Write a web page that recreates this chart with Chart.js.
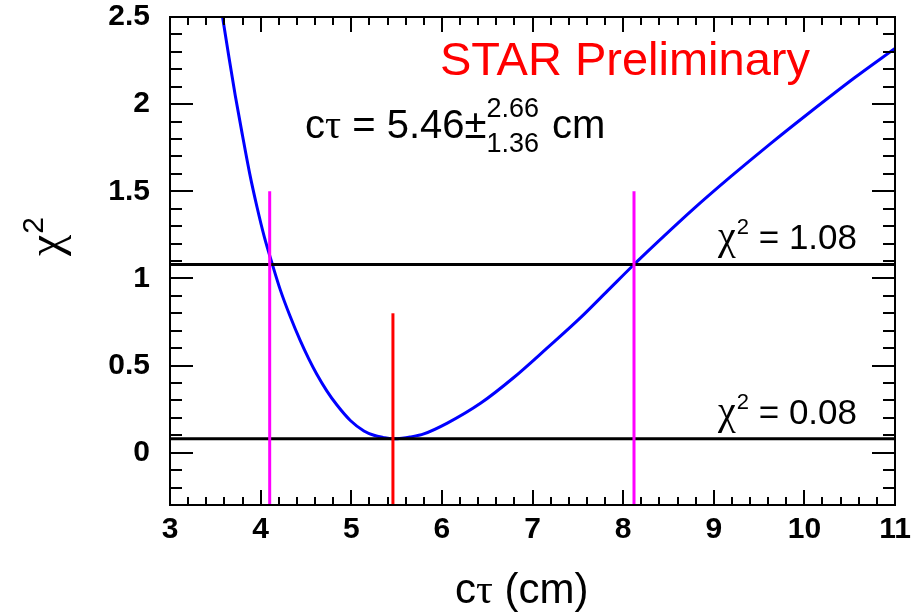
<!DOCTYPE html>
<html>
<head>
<meta charset="utf-8">
<script src="https://cdn.jsdelivr.net/npm/chart.js@4.4.1/dist/chart.umd.min.js"></script>
<style>
  html, body { margin: 0; padding: 0; background: #fff; }
  #wrap { width: 919px; height: 613px; }
</style>
</head>
<body>
<div id="wrap"><canvas id="chi2Chart" width="919" height="613"></canvas></div>
<script>
// chi2 scan of the lifetime fit, c*tau in cm
const ctValues = [3.55, 3.58, 3.65, 3.72, 3.80, 3.88, 3.96, 4.04, 4.13, 4.22, 4.32, 4.44, 4.53, 4.62, 4.73, 4.84, 4.99, 5.14, 5.25, 5.35, 5.46,
  5.56, 5.65, 5.80, 6.06, 6.43, 6.79, 7.16, 7.53, 7.83, 8.12, 8.19, 8.78, 9.19, 9.63, 10.04, 10.55, 11.0];
const chi2Values = [2.60, 2.50, 2.27, 2.05, 1.82, 1.60, 1.41, 1.24, 1.08, 0.93, 0.79, 0.64, 0.54, 0.45, 0.355, 0.275, 0.185, 0.125, 0.10, 0.088, 0.08,
  0.083, 0.09, 0.108, 0.17, 0.285, 0.43, 0.60, 0.775, 0.93, 1.08, 1.115, 1.40, 1.585, 1.775, 1.945, 2.15, 2.32];

// fit result: best value and asymmetric errors
const ctBest = 5.46;
const ctErrUp = 2.66;
const ctErrDown = 1.36;
const chi2Min = 0.08;
const chi2Levels = [chi2Min, chi2Min + 1];
const boundMarkTop = 1.5;
const bestMarkTop = 0.8;

// axis ranges and labelled ticks
const xRange = [3, 11];
const yRange = [-0.3, 2.5];
const xTicks = [3, 4, 5, 6, 7, 8, 9, 10, 11];
const yTicks = [0, 0.5, 1, 1.5, 2, 2.5];

const SANS = '"Liberation Sans", Arial, sans-serif';
const SERIF = '"Liberation Serif", "Times New Roman", serif';

function segment(x0, y0, x1, y1) {
  return [{ x: x0, y: y0 }, { x: x1, y: y1 }];
}

const ctBounds = [ctBest - ctErrDown, ctBest + ctErrUp];

const datasets = [];
// best value marker (red)
datasets.push({
  data: segment(ctBest, yRange[0], ctBest, bestMarkTop),
  borderColor: '#ff0000', borderWidth: 3, pointRadius: 0
});
// error bounds (magenta)
ctBounds.forEach(function (b) {
  datasets.push({
    data: segment(b, yRange[0], b, boundMarkTop),
    borderColor: '#ff00ff', borderWidth: 3, pointRadius: 0
  });
});
// chi2 levels (black)
chi2Levels.forEach(function (lvl) {
  datasets.push({
    data: segment(xRange[0], lvl, xRange[1], lvl),
    borderColor: '#000000', borderWidth: 3, pointRadius: 0
  });
});
// the scan itself
datasets.push({
  data: ctValues.map(function (x, i) { return { x: x, y: chi2Values[i] }; }),
  borderColor: '#0000ff', borderWidth: 3, pointRadius: 0,
  cubicInterpolationMode: 'monotone'
});

// frame with inward ticks on all four sides, ROOT style
const frameTicks = {
  id: 'frameTicks',
  afterDatasetsDraw(chart) {
    const ctx = chart.ctx;
    const ca = chart.chartArea;
    const xs = chart.scales.x, ys = chart.scales.y;
    ctx.save();
    ctx.strokeStyle = '#000';
    ctx.lineWidth = 2;
    ctx.strokeRect(ca.left, ca.top, ca.right - ca.left, ca.bottom - ca.top);
    ctx.beginPath();
    for (let i = 0; i <= 40; i++) {
      const v = xRange[0] + i * 0.2;
      const px = Math.round(xs.getPixelForValue(v));
      const len = (i % 5 === 0) ? 15 : 8;
      ctx.moveTo(px, ca.bottom); ctx.lineTo(px, ca.bottom - len);
      ctx.moveTo(px, ca.top); ctx.lineTo(px, ca.top + len);
    }
    for (let i = 0; i <= 28; i++) {
      const v = yRange[0] + i * 0.1;
      const py = Math.round(ys.getPixelForValue(v));
      const major = Math.abs(Math.round(v * 2) - v * 2) < 1e-6;
      const len = major ? 23 : 12;
      ctx.moveTo(ca.left, py); ctx.lineTo(ca.left + len, py);
      ctx.moveTo(ca.right, py); ctx.lineTo(ca.right - len, py);
    }
    ctx.stroke();
    ctx.restore();
  }
};

// text with a raised exponent, drawn left to right
function drawPowered(ctx, x, y, base, baseFont, sup, supFont, rise) {
  ctx.font = baseFont;
  ctx.fillText(base, x, y);
  x += ctx.measureText(base).width + 1;
  ctx.font = supFont;
  ctx.fillText(sup, x, y - rise);
  return x + ctx.measureText(sup).width;
}

const labels = {
  id: 'labels',
  afterDraw(chart) {
    const ctx = chart.ctx;
    const ca = chart.chartArea;
    const ys = chart.scales.y;
    ctx.save();
    ctx.textBaseline = 'alphabetic';
    ctx.textAlign = 'left';

    // preliminary tag
    ctx.fillStyle = '#ff0000';
    ctx.font = '47px ' + SANS;
    ctx.fillText('STAR Preliminary', 440, 75);

    // fit result
    ctx.fillStyle = '#000';
    let x = 305;
    const base = 138;
    ctx.font = '40px ' + SANS;
    ctx.fillText('c', x, base);
    x += ctx.measureText('c').width;
    ctx.font = '40px ' + SERIF;
    ctx.fillText('\u03c4', x, base);
    x += ctx.measureText('\u03c4').width;
    ctx.font = '40px ' + SANS;
    const mid = ' = ' + ctBest.toFixed(2) + '\u00b1';
    ctx.fillText(mid, x, base);
    x += ctx.measureText(mid).width;
    ctx.font = '27px ' + SANS;
    ctx.fillText(ctErrUp.toFixed(2), x, base - 21);
    ctx.fillText(ctErrDown.toFixed(2), x, base + 14);
    x += Math.max(ctx.measureText(ctErrUp.toFixed(2)).width, ctx.measureText(ctErrDown.toFixed(2)).width) + 13;
    ctx.font = '40px ' + SANS;
    ctx.fillText('cm', x, base);

    // chi2 level labels, right aligned near the frame
    chi2Levels.forEach(function (lvl) {
      const py = ys.getPixelForValue(lvl) - 15;
      const tail = ' = ' + lvl.toFixed(2);
      ctx.font = '35px ' + SANS;
      const wTail = ctx.measureText(tail).width;
      ctx.font = '22px ' + SANS;
      const wSup = ctx.measureText('2').width;
      ctx.font = '40px ' + SERIF;
      const wChi = ctx.measureText('\u03c7').width;
      let sx = ca.right - 38 - wTail - wSup - wChi - 1;
      sx = drawPowered(ctx, sx, py, '\u03c7', '40px ' + SERIF, '2', '22px ' + SANS, 15);
      ctx.font = '35px ' + SANS;
      ctx.fillText(tail, sx, py);
    });

    // x axis title
    ctx.font = '42px ' + SANS;
    let tx = 455;
    const ty = 603;
    ctx.fillText('c', tx, ty);
    tx += ctx.measureText('c').width;
    ctx.font = '42px ' + SERIF;
    ctx.fillText('\u03c4', tx, ty);
    tx += ctx.measureText('\u03c4').width;
    ctx.font = '42px ' + SANS;
    ctx.fillText(' (cm)', tx, ty);

    // y axis title, rotated
    ctx.translate(61, 256);
    ctx.rotate(-Math.PI / 2);
    drawPowered(ctx, 0, 0, '\u03c7', '48px ' + SERIF, '2', '30px ' + SANS, 18);
    ctx.restore();
  }
};

const tickFont = { family: SANS, weight: 'bold', size: 30 };

new Chart(document.getElementById('chi2Chart'), {
  type: 'line',
  data: { datasets: datasets },
  options: {
    responsive: false,
    animation: false,
    devicePixelRatio: 1,
    layout: { padding: { top: 17, right: 24, left: 0, bottom: 0 } },
    plugins: { legend: { display: false }, tooltip: { enabled: false } },
    scales: {
      x: {
        type: 'linear', min: xRange[0], max: xRange[1],
        grid: { display: false, drawTicks: false }, border: { display: false },
        ticks: { color: '#000', font: tickFont, padding: 7, maxRotation: 0, callback: function (v) { return String(v); } },
        afterBuildTicks: function (s) { s.ticks = xTicks.map(function (v) { return { value: v }; }); },
        afterFit: function (s) { s.height = 108; s.paddingLeft = 0; s.paddingRight = 0; }
      },
      y: {
        type: 'linear', min: yRange[0], max: yRange[1],
        grid: { display: false, drawTicks: false }, border: { display: false },
        ticks: { color: '#000', font: tickFont, padding: 20, callback: function (v) { return String(v); } },
        afterBuildTicks: function (s) { s.ticks = yTicks.map(function (v) { return { value: v }; }); },
        afterFit: function (s) { s.width = 170; s.paddingTop = 0; s.paddingBottom = 0; }
      }
    }
  },
  plugins: [frameTicks, labels]
});
</script>
</body>
</html>
